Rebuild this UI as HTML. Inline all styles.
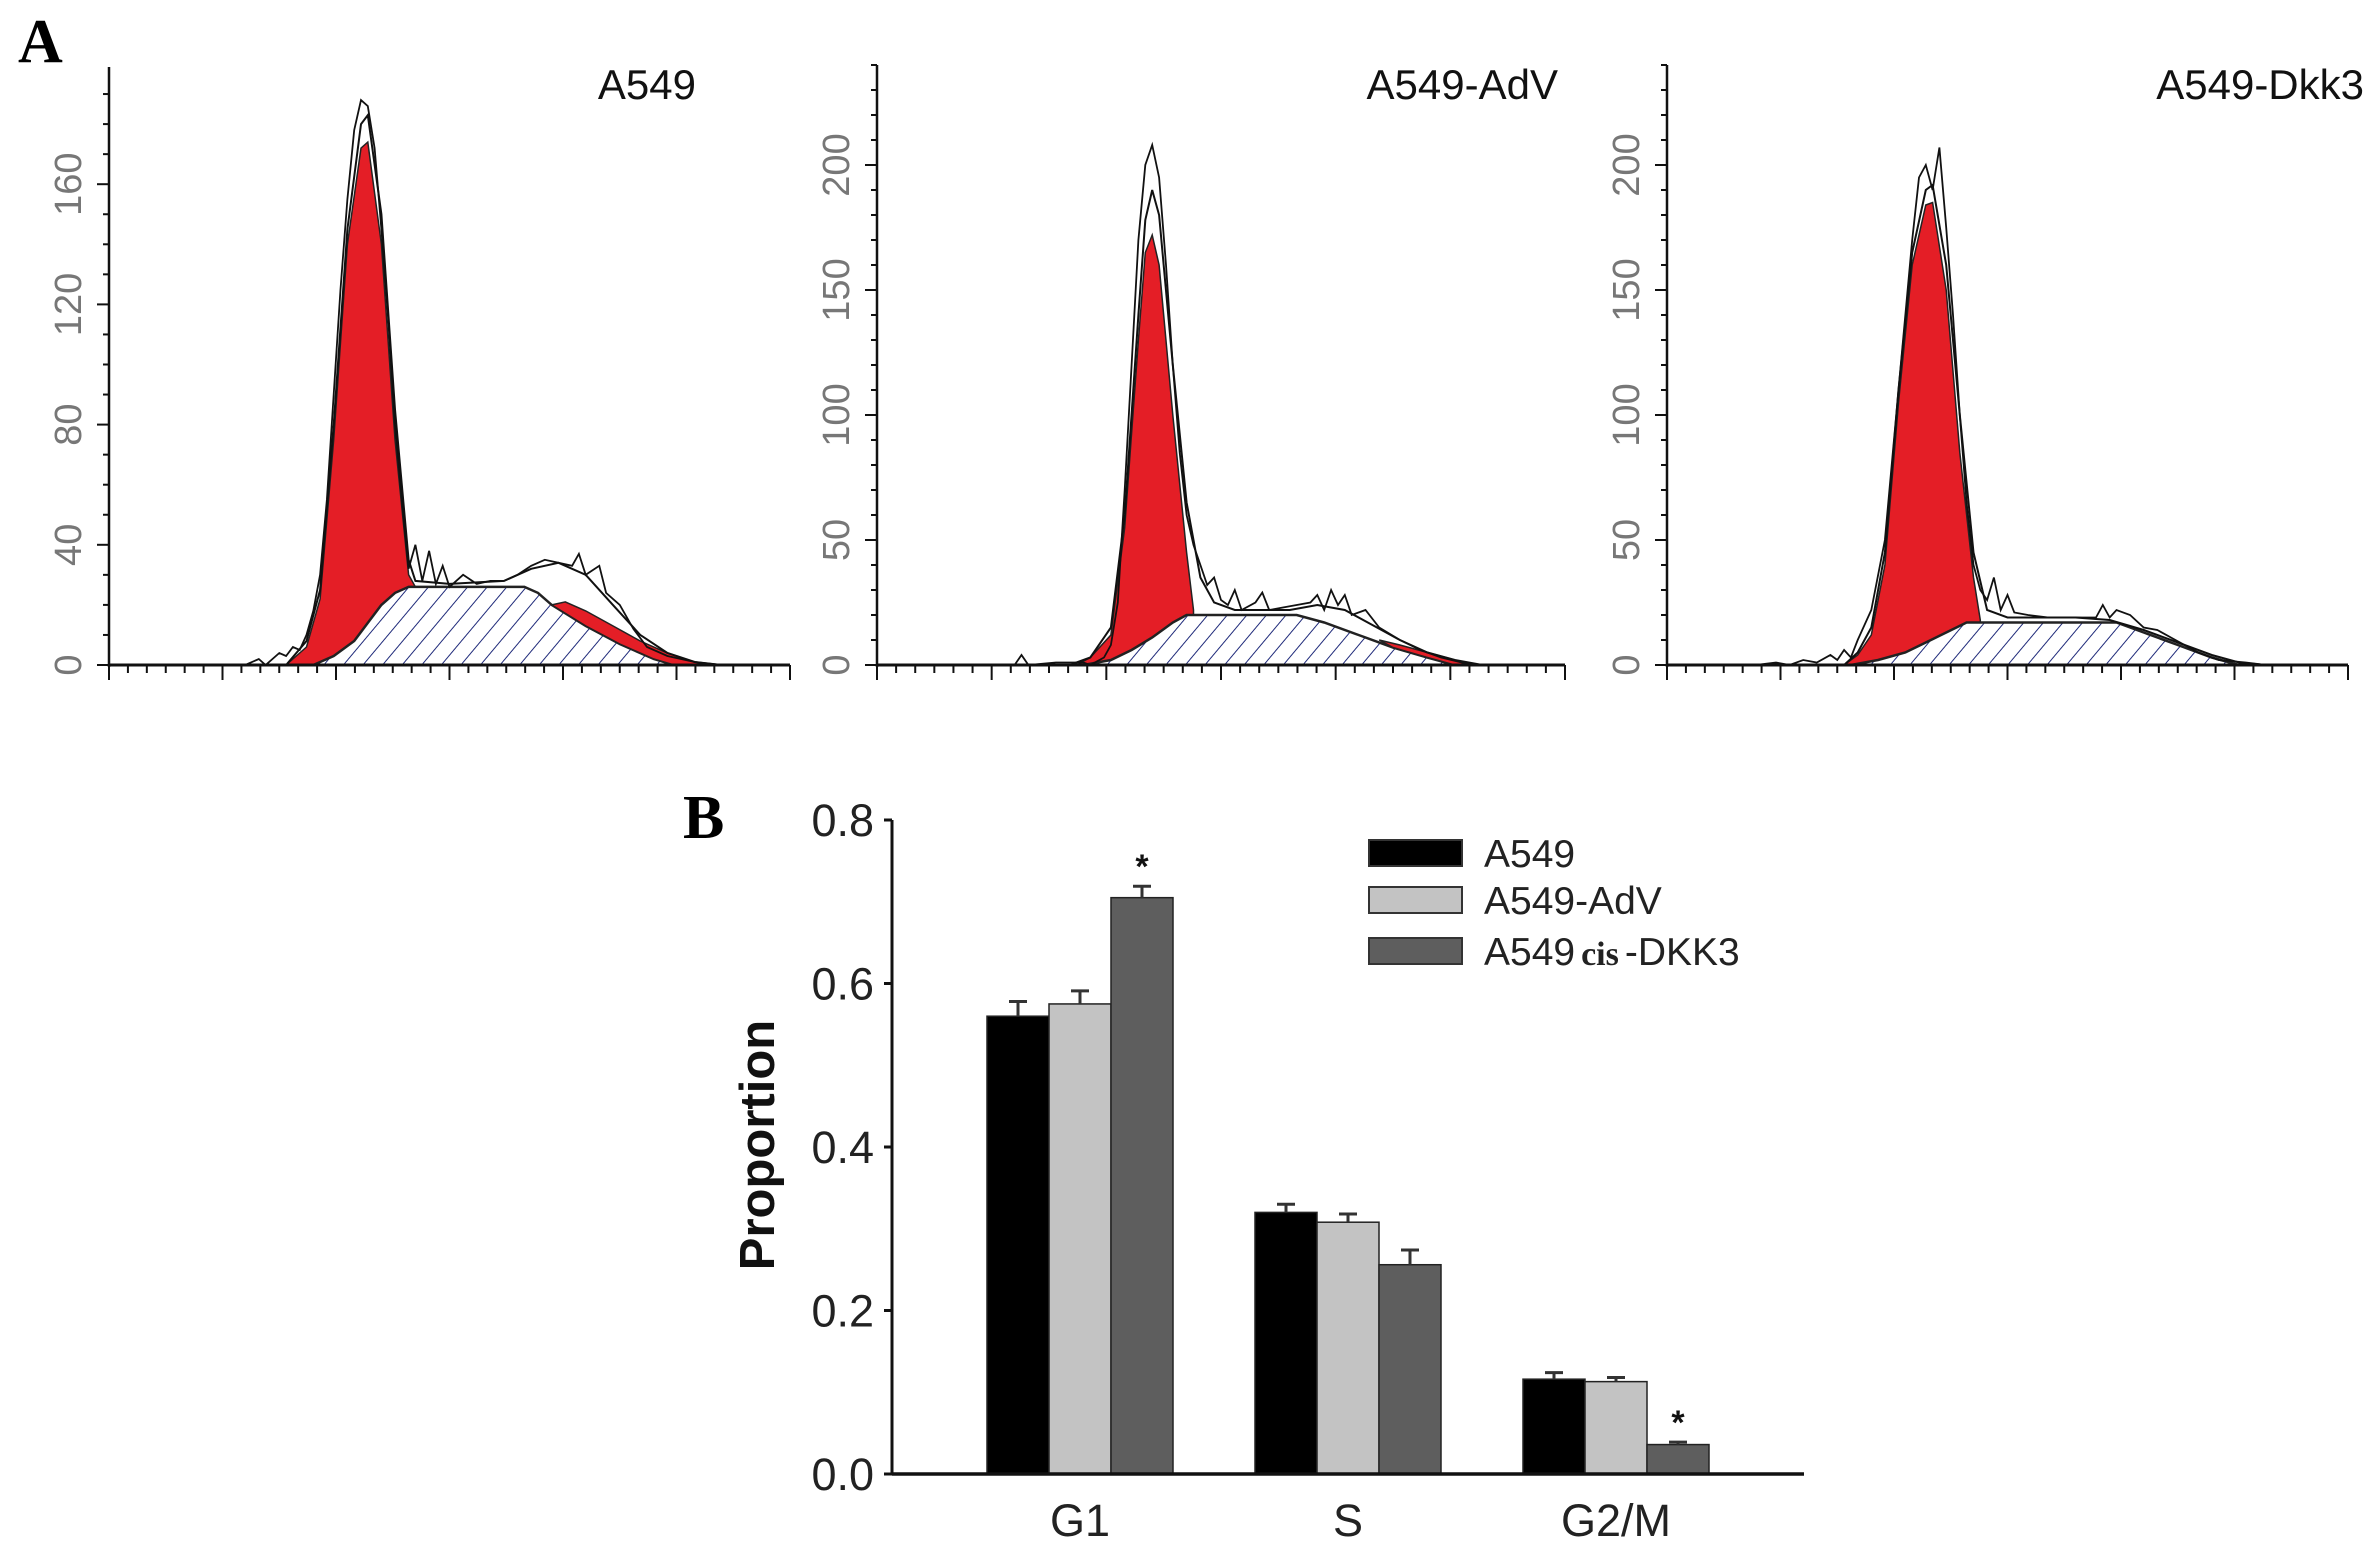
<!DOCTYPE html>
<html><head><meta charset="utf-8">
<style>
html,body{margin:0;padding:0;background:#fff;}
svg{display:block;}
</style></head>
<body>
<svg id="fig" width="2375" height="1558" viewBox="0 0 2375 1558" xmlns="http://www.w3.org/2000/svg">
<defs>
<pattern id="hatch" patternUnits="userSpaceOnUse" width="15" height="15" patternTransform="rotate(40)">
<rect width="15" height="15" fill="#fff"/>
<line x1="0" y1="0" x2="0" y2="15" stroke="#1f2a7a" stroke-width="2"/>
</pattern>
</defs>
<text x="18" y="62" font-family="Liberation Serif, serif" font-weight="bold" font-size="62">A</text>
<text x="683" y="838" font-family="Liberation Serif, serif" font-weight="bold" font-size="62">B</text>
<g id="hist"></g>
<g id="bars"></g>
</svg>
<script>
// ---------- Panel A histogram data (x: channel 0-100, y: counts) ----------
const histTitles = ["A549", "A549-AdV", "A549-Dkk3"];
const histYMax = [199, 240, 240];
const histYTicks = [[0,40,80,120,160],[0,50,100,150,200],[0,50,100,150,200]];

const histRaw1 = [[20,0],[22,2],[23,0],[25,4],[26,3],[27,6],[28,5],[29,10],[30,18],[31,30],[32,55],[33,90],[34,125],[35,155],[36,178],[37,188],[38,186],[39,172],[40,145],[41,115],[42,80],[43,55],[44,32],[45,40],[46,28],[47,38],[48,27],[49,33],[50,26],[52,30],[54,27],[56,28],[58,28],[60,30],[62,33],[64,35],[66,34],[68,33],[69,37],[70,30],[72,33],[73,24],[75,20],[77,12],[79,6],[82,3],[86,1],[90,0]];
const histModel1 = [[26,0],[29,8],[31,25],[33,80],[35,145],[37,180],[38,183],[40,150],[42,85],[44,35],[45,28],[50,27],[58,28],[62,32],[66,34],[70,30],[74,20],[78,10],[82,4],[86,1],[90,0]];
const histG1_1 = [[26,0],[29,6],[31,22],[33,75],[35,140],[37,172],[38,174],[40,140],[42,75],[44,30],[45,26],[45,0]];
const histS1 = [[30,0],[33,3],[36,8],[38,14],[40,20],[42,24],[44,26],[61,26],[63,24],[65,20],[70,13],[75,7],[80,2],[83,0]];
const histG2_1 = [[65,20],[67,21],[70,18],[74,13],[78,8],[82,4],[86,1],[89,0],[83,0],[80,2],[75,7],[70,13]];

const histRaw2 = [[20,0],[21,4],[22,0],[26,1],[30,1],[31,0],[33,3],[34,8],[35,25],[36,70],[37,120],[38,170],[39,200],[40,208],[41,195],[42,160],[43,120],[44,85],[45,60],[46,48],[47,40],[48,32],[49,35],[50,26],[51,24],[52,30],[53,22],[55,25],[56,29],[57,22],[59,23],[61,24],[63,25],[64,28],[65,22],[66,30],[67,24],[68,28],[69,20],[71,22],[73,15],[76,10],[79,6],[82,3],[85,1],[88,0]];
const histModel2 = [[28,0],[31,3],[34,15],[36,60],[38,140],[39,178],[40,190],[41,180],[43,120],[45,65],[47,35],[49,25],[52,22],[60,22],[64,24],[68,22],[72,16],[76,10],[80,5],[84,2],[88,0]];
const histG1_2 = [[29,0],[31,3],[34,12],[36,55],[38,130],[39,165],[40,172],[41,160],[43,100],[45,45],[46,22],[46,0]];
const histS2 = [[30,0],[34,2],[37,6],[40,11],[43,17],[45,20],[61,20],[65,17],[70,12],[75,7],[80,3],[84,0]];
const histG2_2 = [[73,10],[76,8],[80,5],[84,2],[87,0],[84,0],[80,3],[75,7]];

const histRaw3 = [[13,0],[16,1],[18,0],[20,2],[22,1],[24,4],[25,2],[26,6],[27,3],[28,10],[30,22],[32,50],[34,110],[36,170],[37,195],[38,200],[39,190],[40,207],[41,175],[42,140],[43,100],[44,65],[45,40],[46,30],[47,26],[48,35],[49,22],[50,28],[51,21],[53,20],[56,19],[60,19],[63,19],[64,24],[65,19],[66,22],[68,20],[70,15],[72,14],[74,11],[76,8],[78,5],[81,2],[85,1],[88,0]];
const histModel3 = [[26,0],[28,5],[30,15],[32,45],[34,110],[36,165],[38,190],[39,192],[41,160],[43,100],[45,45],[47,22],[50,19],[60,19],[65,18],[70,14],[75,9],[80,4],[84,1],[88,0]];
const histG1_3 = [[26,0],[28,4],[30,12],[32,40],[34,105],[36,160],[38,184],[39,185],[41,150],[43,85],[45,35],[46,18],[46,0]];
const histS3 = [[27,0],[31,2],[35,5],[38,9],[41,13],[44,17],[66,17],[70,13],[75,8],[80,3],[84,0]];
const histG2_3 = [];

const histRaw = [histRaw1, histRaw2, histRaw3];
const histModel = [histModel1, histModel2, histModel3];
const histG1 = [histG1_1, histG1_2, histG1_3];
const histS = [histS1, histS2, histS3];
const histG2 = [histG2_1, histG2_2, histG2_3];

// ---------- Panel B bar data ----------
const barCategories = ["G1", "S", "G2/M"];
const barSeriesNames = ["A549", "A549-AdV", "A549cis-DKK3"];
const barA549 = [0.560, 0.320, 0.116];
const barAdV = [0.575, 0.308, 0.113];
const barDKK3 = [0.705, 0.256, 0.036];
const errA549 = [0.018, 0.010, 0.008];
const errAdV = [0.016, 0.010, 0.005];
const errDKK3 = [0.014, 0.018, 0.003];
const barSig = [[false,false,true],[false,false,false],[false,false,true]];
const barYTicks = [0.0, 0.2, 0.4, 0.6, 0.8];
const barYTickLabels = ["0.0", "0.2", "0.4", "0.6", "0.8"];

const NS = "http://www.w3.org/2000/svg";
function mk(tag, attrs, parent){ const e=document.createElementNS(NS,tag); for(const k in attrs) e.setAttribute(k,attrs[k]); parent.appendChild(e); return e; }

// ---------- Draw histograms ----------
const histG = document.getElementById('hist');
const panels = [
  {x0:109, x1:790, y0:665, yTop:67},
  {x0:877, x1:1565, y0:665, yTop:65},
  {x0:1667, x1:2348, y0:665, yTop:65}
];
panels.forEach((p, i) => {
  const g = mk('g', {}, histG);
  
  
  const xs = v => p.x0 + v/100*(p.x1-p.x0);
  const ys = v => p.y0 - v/histYMax[i]*(p.y0-p.yTop);
  const pts = arr => arr.map(d => xs(d[0]).toFixed(1)+','+ys(d[1]).toFixed(1)).join(' ');
  if (histG1[i].length){ const e=mk('polygon',{points:pts(histG1[i]),fill:'#e41e26',stroke:'#222','stroke-width':1.5},g);
      }
  { const e=mk('polygon',{points:pts(histS[i]),fill:'url(#hatch)',stroke:'#222','stroke-width':2.5},g);
      }
  if (histG2[i].length){ const e=mk('polygon',{points:pts(histG2[i]),fill:'#e41e26',stroke:'#222','stroke-width':1.5},g);
      }
  { const e=mk('polyline',{points:pts(histModel[i]),fill:'none',stroke:'#111','stroke-width':2},g);
      }
  { const e=mk('polyline',{points:pts(histRaw[i]),fill:'none',stroke:'#111','stroke-width':1.8},g);
      }
  { const e=mk('line',{x1:p.x0,y1:p.yTop,x2:p.x0,y2:p.y0+2,stroke:'#111','stroke-width':2.5},g);
      }
  { const e=mk('line',{x1:p.x0,y1:p.y0,x2:p.x1,y2:p.y0,stroke:'#111','stroke-width':3},g);
      }
  for (let k=0;k<=36;k++){
    const xv = p.x0 + k/36*(p.x1-p.x0);
    const major = k%6===0;
    mk('line',{x1:xv,y1:p.y0,x2:xv,y2:p.y0+(major?15:8),stroke:'#111','stroke-width':2},g);
  }
  for (let v=0; v<=histYMax[i]; v+=10){
    const yv = ys(v);
    const major = histYTicks[i].includes(v);
    mk('line',{x1:p.x0-(major?12:6),y1:yv,x2:p.x0,y2:yv,stroke:'#111','stroke-width':2},g);
  }
  histYTicks[i].forEach(v => {
    const yv = ys(v);
    const t = mk('text',{x:0,y:0,transform:`translate(${p.x0-28},${yv}) rotate(-90)`,'text-anchor':'middle','font-family':'Liberation Sans, sans-serif','font-size':38,fill:'#777'},g);
    t.textContent = v;
     
  });
  const tt = mk('text',{x:[696,1558,2364][i],y:99,'text-anchor':'end','font-family':'Liberation Sans, sans-serif','font-size':42,fill:'#111'},g);
  tt.textContent = histTitles[i];
   
});

// ---------- Draw bar chart ----------
const bg = document.getElementById('bars');
const B = {x0:892, x1:1804, y0:1474, yTop:820, vMax:0.8};
const by = v => B.y0 - v/B.vMax*(B.y0-B.yTop);
const groupCenters0 = 1080, groupStep = 268, barW = 62;
const series = [barA549, barAdV, barDKK3];
const errs = [errA549, errAdV, errDKK3];
const colors = ['#000000', '#c3c3c3', '#5e5e5e'];
series.forEach((vals, s) => {
  vals.forEach((v, c) => {
    const cx = groupCenters0 + c*groupStep + (s-1)*barW;
    const r = mk('rect',{x:cx-barW/2,y:by(v),width:barW,height:B.y0-by(v),fill:colors[s],stroke:'#222','stroke-width':1.5},bg);
    
    
    const ye = by(v+errs[s][c]);
    mk('line',{x1:cx,y1:by(v),x2:cx,y2:ye,stroke:'#333','stroke-width':3},bg);
    const cap = mk('line',{x1:cx-9,y1:ye,x2:cx+9,y2:ye,stroke:'#333','stroke-width':3},bg);
     
    if (barSig[c][s]) {
      const st = mk('text',{x:cx,y:ye-8,'text-anchor':'middle','font-family':'Liberation Sans, sans-serif','font-size':34,'font-weight':'bold',fill:'#111'},bg);
      st.textContent='*';
       
    }
  });
});
{ const e=mk('line',{x1:B.x0,y1:B.yTop,x2:B.x0,y2:B.y0,stroke:'#111','stroke-width':3},bg);
    }
{ const e=mk('line',{x1:B.x0,y1:B.y0,x2:B.x1,y2:B.y0,stroke:'#111','stroke-width':3.5},bg);
    }
barYTicks.forEach((v,k) => {
  mk('line',{x1:B.x0-8,y1:by(v),x2:B.x0,y2:by(v),stroke:'#111','stroke-width':3},bg);
  const t = mk('text',{x:B.x0-18,y:by(v)+16,'text-anchor':'end','font-family':'Liberation Sans, sans-serif','font-size':45,fill:'#222'},bg);
  t.textContent = barYTickLabels[k];
   
});
barCategories.forEach((c,k) => {
  const t = mk('text',{x:groupCenters0+k*groupStep,y:1536,'text-anchor':'middle','font-family':'Liberation Sans, sans-serif','font-size':45,fill:'#222'},bg);
  t.textContent = c;
   
});
{ const t = mk('text',{x:0,y:0,transform:'translate(774,1145) rotate(-90)','text-anchor':'middle','font-family':'Liberation Sans, sans-serif','font-size':49,'font-weight':'bold',fill:'#111'},bg);
  t.textContent='Proportion';
    }
const legY = [853, 900, 951];
barSeriesNames.forEach((n,k) => {
  const r = mk('rect',{x:1369,y:legY[k]-13,width:93,height:26,fill:colors[k],stroke:'#333','stroke-width':2},bg);
   
  const t = mk('text',{x:1484,y:legY[k]+14,'font-family':'Liberation Sans, sans-serif','font-size':39,fill:'#222'},bg);
  if (k===2) {
    t.textContent = 'A549';
    const ts = mk('tspan',{'font-family':'Liberation Serif, serif','font-weight':'bold','font-size':34,dx:6},t); ts.textContent='cis';
    const ts2 = mk('tspan',{dx:6},t); ts2.textContent='-DKK3';
  } else t.textContent = n;
   
});
</script>
</body></html>
